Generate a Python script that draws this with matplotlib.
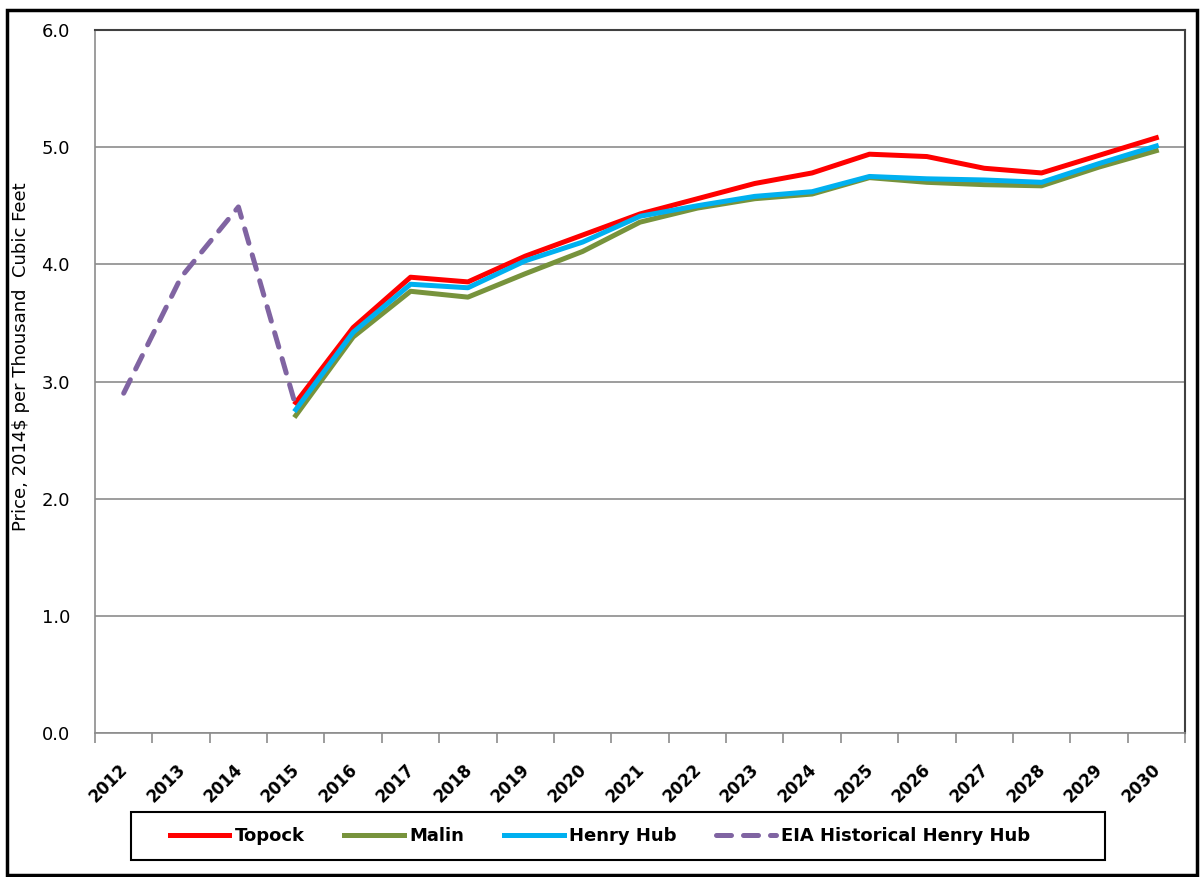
import numpy as np
import matplotlib.pyplot as plt
import matplotlib.transforms as mtransforms
from matplotlib.patches import Rectangle

# Годы и цены (2014$ за тыс. куб. футов)
years = [str(y) for y in range(2012, 2031)]
nan = np.nan
topock = [nan, nan, nan, 2.82, 3.46, 3.89, 3.85, 4.07, 4.25, 4.43, 4.56, 4.69,
          4.78, 4.94, 4.92, 4.82, 4.78, 4.93, 5.08]
malin = [nan, nan, nan, 2.71, 3.38, 3.77, 3.72, 3.92, 4.11, 4.36, 4.48, 4.56,
         4.60, 4.74, 4.70, 4.68, 4.67, 4.83, 4.97]
henry_hub = [nan, nan, nan, 2.76, 3.42, 3.83, 3.80, 4.03, 4.19, 4.41, 4.50, 4.58,
             4.62, 4.75, 4.73, 4.72, 4.70, 4.86, 5.01]
eia_hist = [2.90, 3.89, 4.49, 2.79] + [nan] * 15

W, H = 1201, 877
fig = plt.figure(figsize=(W / 100, H / 100), dpi=100)
ax = fig.add_axes([95/W, 1 - 733/H, (1185 - 95)/W, (733 - 30)/H])

x = np.arange(len(years))
lw = 3.6
ax.plot(x, topock, color='#FF0000', lw=lw, label='Topock')
ax.plot(x, malin, color='#77933C', lw=lw, label='Malin')
ax.plot(x, henry_hub, color='#00B0F0', lw=lw, label='Henry Hub')
ax.plot(x, eia_hist, color='#8064A2', lw=lw, ls=(0, (3.0, 2.4)),
        label='EIA Historical Henry Hub', dash_capstyle='round')

ax.set_xlim(-0.5, len(years) - 0.5)
ax.set_ylim(0, 6)
yt = np.arange(0, 6.1, 1.0)
ax.set_yticks(yt)
ax.set_yticklabels([f'{v:.1f}' for v in yt], fontsize=13)
ax.tick_params(axis='y', length=0, pad=18)
ax.yaxis.grid(True, color='#8C8C8C', lw=1.2)
ax.set_axisbelow(True)

ax.set_xticks(x)
ax.set_xticklabels(years, rotation=45, ha='right', rotation_mode='anchor',
                   fontsize=12, fontweight='bold')
ax.tick_params(axis='x', which='major', length=0, pad=18)
shift = mtransforms.ScaledTranslation(-5/100, -2/100, fig.dpi_scale_trans)
for lbl in ax.get_xticklabels():
    lbl.set_transform(lbl.get_transform() + shift)
ax.set_xticks(np.arange(-0.5, len(years), 1.0), minor=True)
ax.tick_params(axis='x', which='minor', length=7, color='#8C8C8C', width=1.2)

for side in ['left', 'bottom']:
    ax.spines[side].set_color('#8C8C8C')
    ax.spines[side].set_linewidth(1.2)
for side in ['top', 'right']:
    ax.spines[side].set_color('#404040')
    ax.spines[side].set_linewidth(1.5)

ax.set_ylabel('Price, 2014$ per Thousand  Cubic Feet', fontsize=13)
ax.yaxis.set_label_coords(30/W, 1 - 357/H, transform=fig.transFigure)

# легенда без рамки + отдельная рамка
leg = fig.legend(loc='center', bbox_to_anchor=(600/W, 1 - 836/H), ncol=4,
                 frameon=False, prop={'weight': 'bold', 'size': 13},
                 handlelength=3.3, columnspacing=2.2, handletextpad=0.3)
fig.patches.append(Rectangle((131/W, 1 - 860/H), (1105 - 131)/W, (860 - 812)/H,
                             transform=fig.transFigure, fill=False,
                             edgecolor='black', lw=1.5))

# внешняя рамка
fig.patches.append(Rectangle((7/W, 1 - 875/H), (1197 - 7)/W, (875 - 10)/H,
                             transform=fig.transFigure, fill=False,
                             edgecolor='black', lw=2.5))

fig.savefig('out.png', dpi=100)
